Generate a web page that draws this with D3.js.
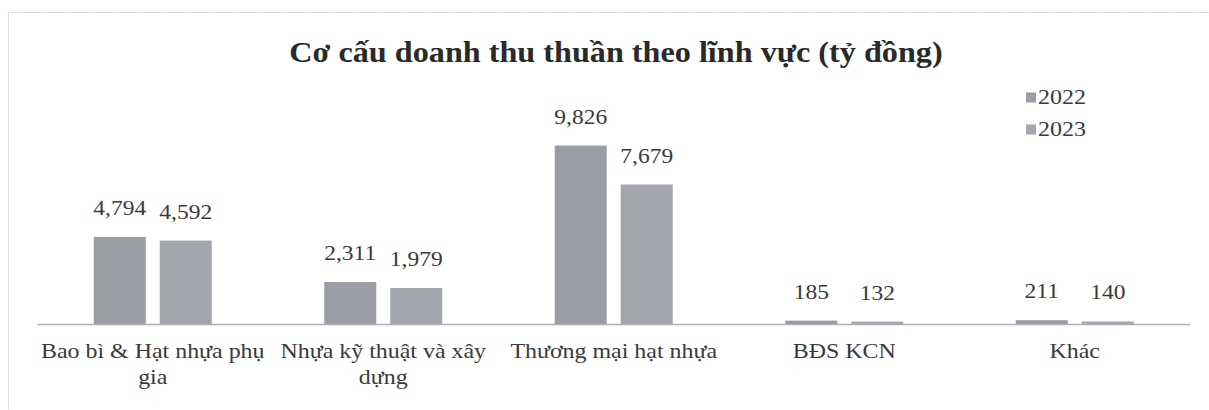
<!DOCTYPE html>
<html><head><meta charset="utf-8">
<script src="https://cdn.jsdelivr.net/npm/d3@7"></script>
<style>body{margin:0;background:#fff;} svg{display:block;} text{font-family:"Liberation Serif","Times New Roman",serif;fill:#3a3a3a;}</style>
</head><body>
<svg id="c" width="1209" height="410"></svg>
<script>
const categories = [["Bao bì & Hạt nhựa phụ","gia"],["Nhựa kỹ thuật và xây","dựng"],["Thương mại hạt nhựa"],["BĐS KCN"],["Khác"]];
const seriesNames = ["2022","2023"];
const values2022 = [4794, 2311, 9826, 185, 211];
const values2023 = [4592, 1979, 7679, 132, 140];
const title = "Cơ cấu doanh thu thuần theo lĩnh vực (tỷ đồng)";

const svg = d3.select("#c");
const W = 1209, H = 410;
const colors = ["#9a9da4", "#a3a6ac"];
const base = 324, x0 = 37.5, x1 = 1190;
const SX = 1.14; // horizontal stretch of the scanned text

function stretchedText(parent, x, y, txt, size, anchor, sx) {
  return parent.append("text")
    .attr("transform", `translate(${x},${y}) scale(${sx},1)`)
    .attr("text-anchor", anchor).style("font-size", size + "px").text(txt);
}

// frame
svg.append("rect").attr("x",8.5).attr("y",12.5).attr("width",W+20).attr("height",H+20)
  .attr("fill","none").attr("stroke","#cfd1d6").attr("stroke-width",1).attr("stroke-dasharray","2,1");

stretchedText(svg, 616, 62, title, 28.5, "middle", 1.13)
  .style("font-weight","bold").style("fill","#2a2a2a");

const idx = d3.range(categories.length);
const x = d3.scaleBand().domain(idx).range([x0,x1]).paddingInner(0).paddingOuter(0);
const y = d3.scaleLinear().domain([0,9826]).range([base, base-178.5]);
const barW = 52, gap = 14;
const series = [values2022, values2023];

series.forEach((vals, s) => {
  const g = svg.append("g");
  g.selectAll("rect").data(idx).join("rect")
    .attr("x", i => x(i) + x.bandwidth()/2 - (barW + gap/2) + s*(barW+gap))
    .attr("y", i => y(vals[i]))
    .attr("width", barW)
    .attr("height", i => base - y(vals[i]))
    .attr("fill", colors[s]);
  idx.forEach(i => {
    stretchedText(g, x(i) + x.bandwidth()/2 - (gap/2 + barW/2) + s*(barW+gap), y(vals[i]) - 22,
      d3.format(",")(vals[i]), 21, "middle", 1.12);
  });
});

// axis line
svg.append("line").attr("x1",x0).attr("x2",x1).attr("y1",base+0.5).attr("y2",base+0.5)
  .attr("stroke","#a9b0bc").attr("stroke-width",1.5);

// category labels
const cl = svg.append("g");
idx.forEach(i => {
  categories[i].forEach((line, k) => {
    stretchedText(cl, x(i)+x.bandwidth()/2, 358 + k*26, line, 21, "middle", 1.14);
  });
});

// legend
const lg = svg.append("g");
seriesNames.forEach((n, s) => {
  lg.append("rect").attr("x",1026).attr("y",92.5 + s*32).attr("width",10).attr("height",10).attr("fill",colors[s]);
  stretchedText(lg, 1038, 103.5 + s*32, n, 20, "start", 1.2);
});
</script>
</body></html>
